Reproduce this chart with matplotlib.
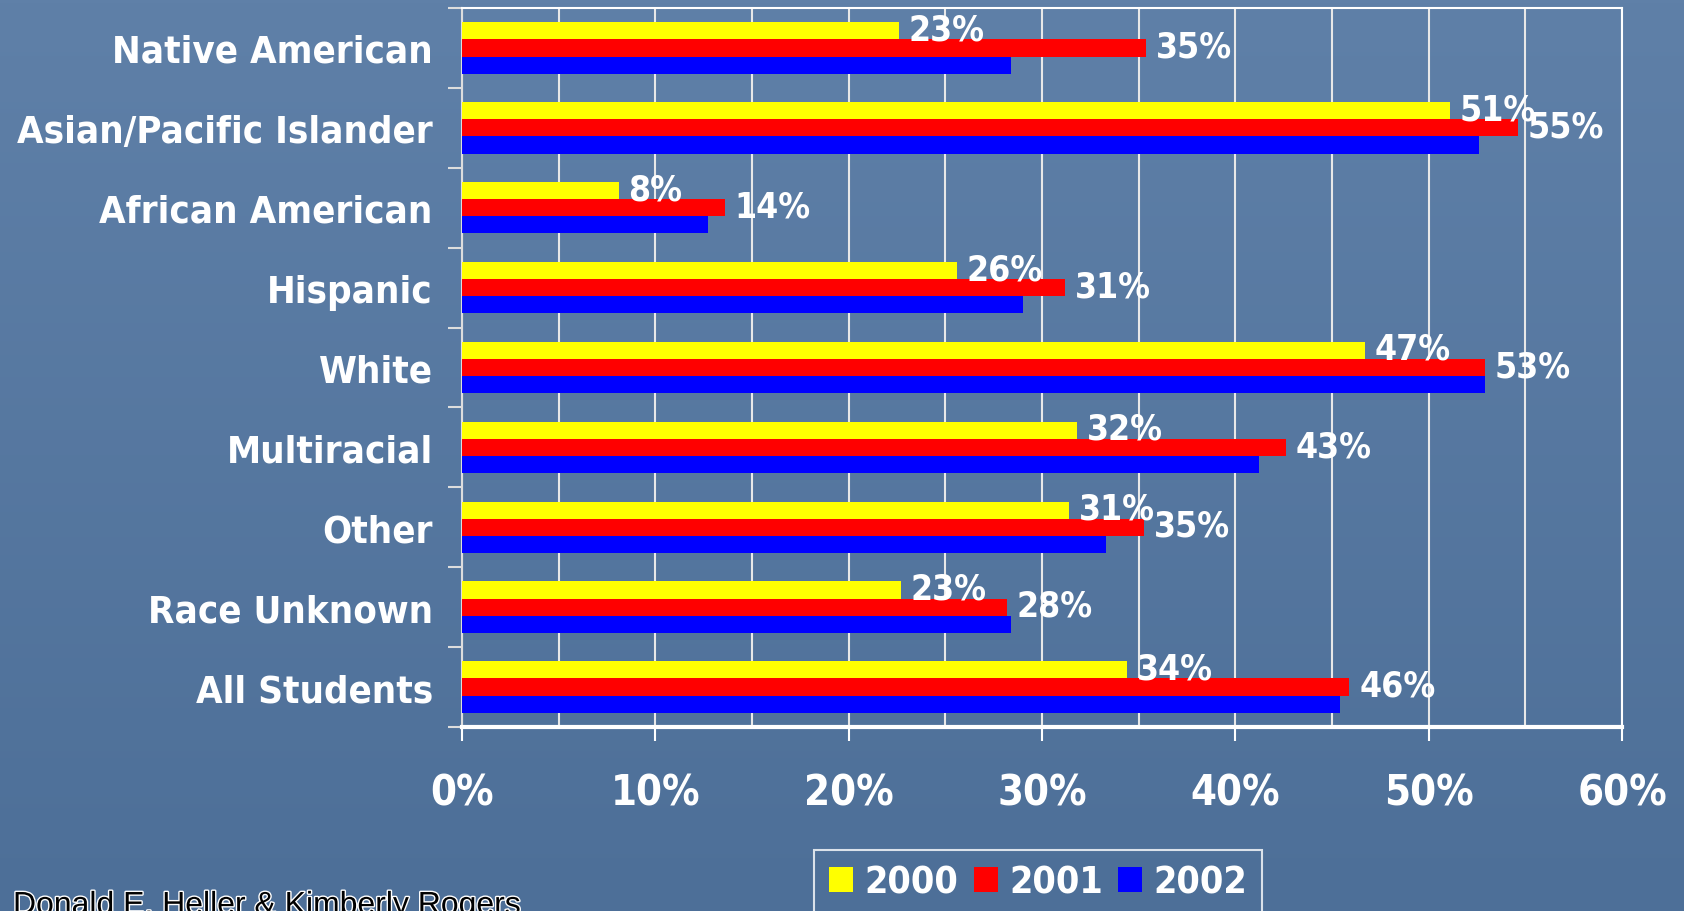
import numpy as np
import matplotlib
matplotlib.use('Agg')
import matplotlib.pyplot as plt
from matplotlib.patches import Patch
import matplotlib.patheffects as pe

# --- dados ---
categorias = ['Native American', 'Asian/Pacific Islander', 'African American',
              'Hispanic', 'White', 'Multiracial', 'Other', 'Race Unknown',
              'All Students']
anos = ['2000', '2001', '2002']
v2000 = [22.6, 51.1, 8.1, 25.6, 46.7, 31.8, 31.4, 22.7, 34.4]
v2001 = [35.4, 54.6, 13.6, 31.2, 52.9, 42.6, 35.3, 28.2, 45.9]
v2002 = [28.4, 52.6, 12.7, 29.0, 52.9, 41.2, 33.3, 28.4, 45.4]
cores = ['#ffff00', '#ff0000', '#0000ff']
xticks = [0, 10, 20, 30, 40, 50, 60]
rodape = 'Donald E. Heller & Kimberly Rogers'

fonte = 'DejaVu Sans'
fig = plt.figure(figsize=(16.84, 9.12), dpi=100)

# fundo azul com leve degradê
fundo = fig.add_axes([0, 0, 1, 1], zorder=-10)
grad = np.linspace(0, 1, 256).reshape(-1, 1)
cmap = matplotlib.colors.LinearSegmentedColormap.from_list('bg', ['#5f80a8', '#4d6f98'])
fundo.imshow(grad, aspect='auto', cmap=cmap, extent=[0, 1, 0, 1])
fundo.axis('off')

ax = fig.add_axes([462/1684, 1-728/912, (1622-462)/1684, (728-9)/912])
ax.set_facecolor('none')

h = 0.215
y = np.arange(len(categorias))
series = [v2000, v2001, v2002]
for k, (vals, cor) in enumerate(zip(series, cores)):
    ax.barh(y + (k - 1) * h, vals, height=h, color=cor, zorder=3)

# rótulos só para 2000 e 2001
for k in (0, 1):
    for yi, v in zip(y, series[k]):
        ax.annotate(f'{round(v):d}%', (v, yi + (k - 1) * h), xytext=(7, 1),
                    textcoords='offset points', va='center', ha='left',
                    color='white', fontsize=25.5, fontweight='bold',
                    fontfamily=fonte, fontstretch='condensed', zorder=5)

ax.set_xlim(0, 60)
ax.set_ylim(len(categorias) - 0.5, -0.5)
ax.set_xticks(xticks)
ax.set_xticklabels([f'{t}%' for t in xticks])
ax.set_xticks(np.arange(5, 60, 10), minor=True)
ax.set_yticks(y)
ax.set_yticklabels(categorias)
ax.set_yticks(np.arange(-0.5, len(categorias)), minor=True)

ax.grid(True, axis='x', which='both', color='#e8e8e8', linewidth=1.5, zorder=1)
ax.tick_params(axis='x', which='major', length=10, width=1.5, color='white',
               pad=22, labelsize=30, labelcolor='white')
ax.tick_params(axis='x', which='minor', length=0)
ax.tick_params(axis='y', which='major', length=0, pad=21, labelsize=27.5,
               labelcolor='white')
ax.tick_params(axis='y', which='minor', length=10, width=1.5, color='#dddddd')
for lab in ax.get_xticklabels() + ax.get_yticklabels():
    lab.set_fontweight('bold')
    lab.set_fontfamily(fonte)
    lab.set_fontstretch('condensed')

for s in ['top', 'right']:
    ax.spines[s].set_color('white')
    ax.spines[s].set_linewidth(1.5)
ax.spines['left'].set_color('#dddddd')
ax.spines['left'].set_linewidth(1.5)
ax.spines['bottom'].set_color('white')
ax.spines['bottom'].set_linewidth(3)

handles = [Patch(facecolor=c, edgecolor='none') for c in cores]
leg = fig.legend(handles, anos, loc='upper left',
                 bbox_to_anchor=(814/1684, 1-851/912), ncol=3,
                 frameon=True, fancybox=False, edgecolor='white',
                 facecolor='none', handlelength=0.65, handleheight=0.65,
                 handletextpad=0.3, columnspacing=0.4, borderpad=0.4,
                 borderaxespad=0,
                 prop={'family': fonte, 'weight': 'bold', 'size': 27,
                       'stretch': 'condensed'})
leg.get_frame().set_linewidth(1.5)
for t in leg.get_texts():
    t.set_color('white')

fig.text(13/1684, 1-892/912, rodape, va='top', ha='left', fontsize=23,
         fontfamily='Liberation Sans', color='black',
         path_effects=[pe.withStroke(linewidth=2, foreground='white')])

fig.savefig('out.png', dpi=100)
